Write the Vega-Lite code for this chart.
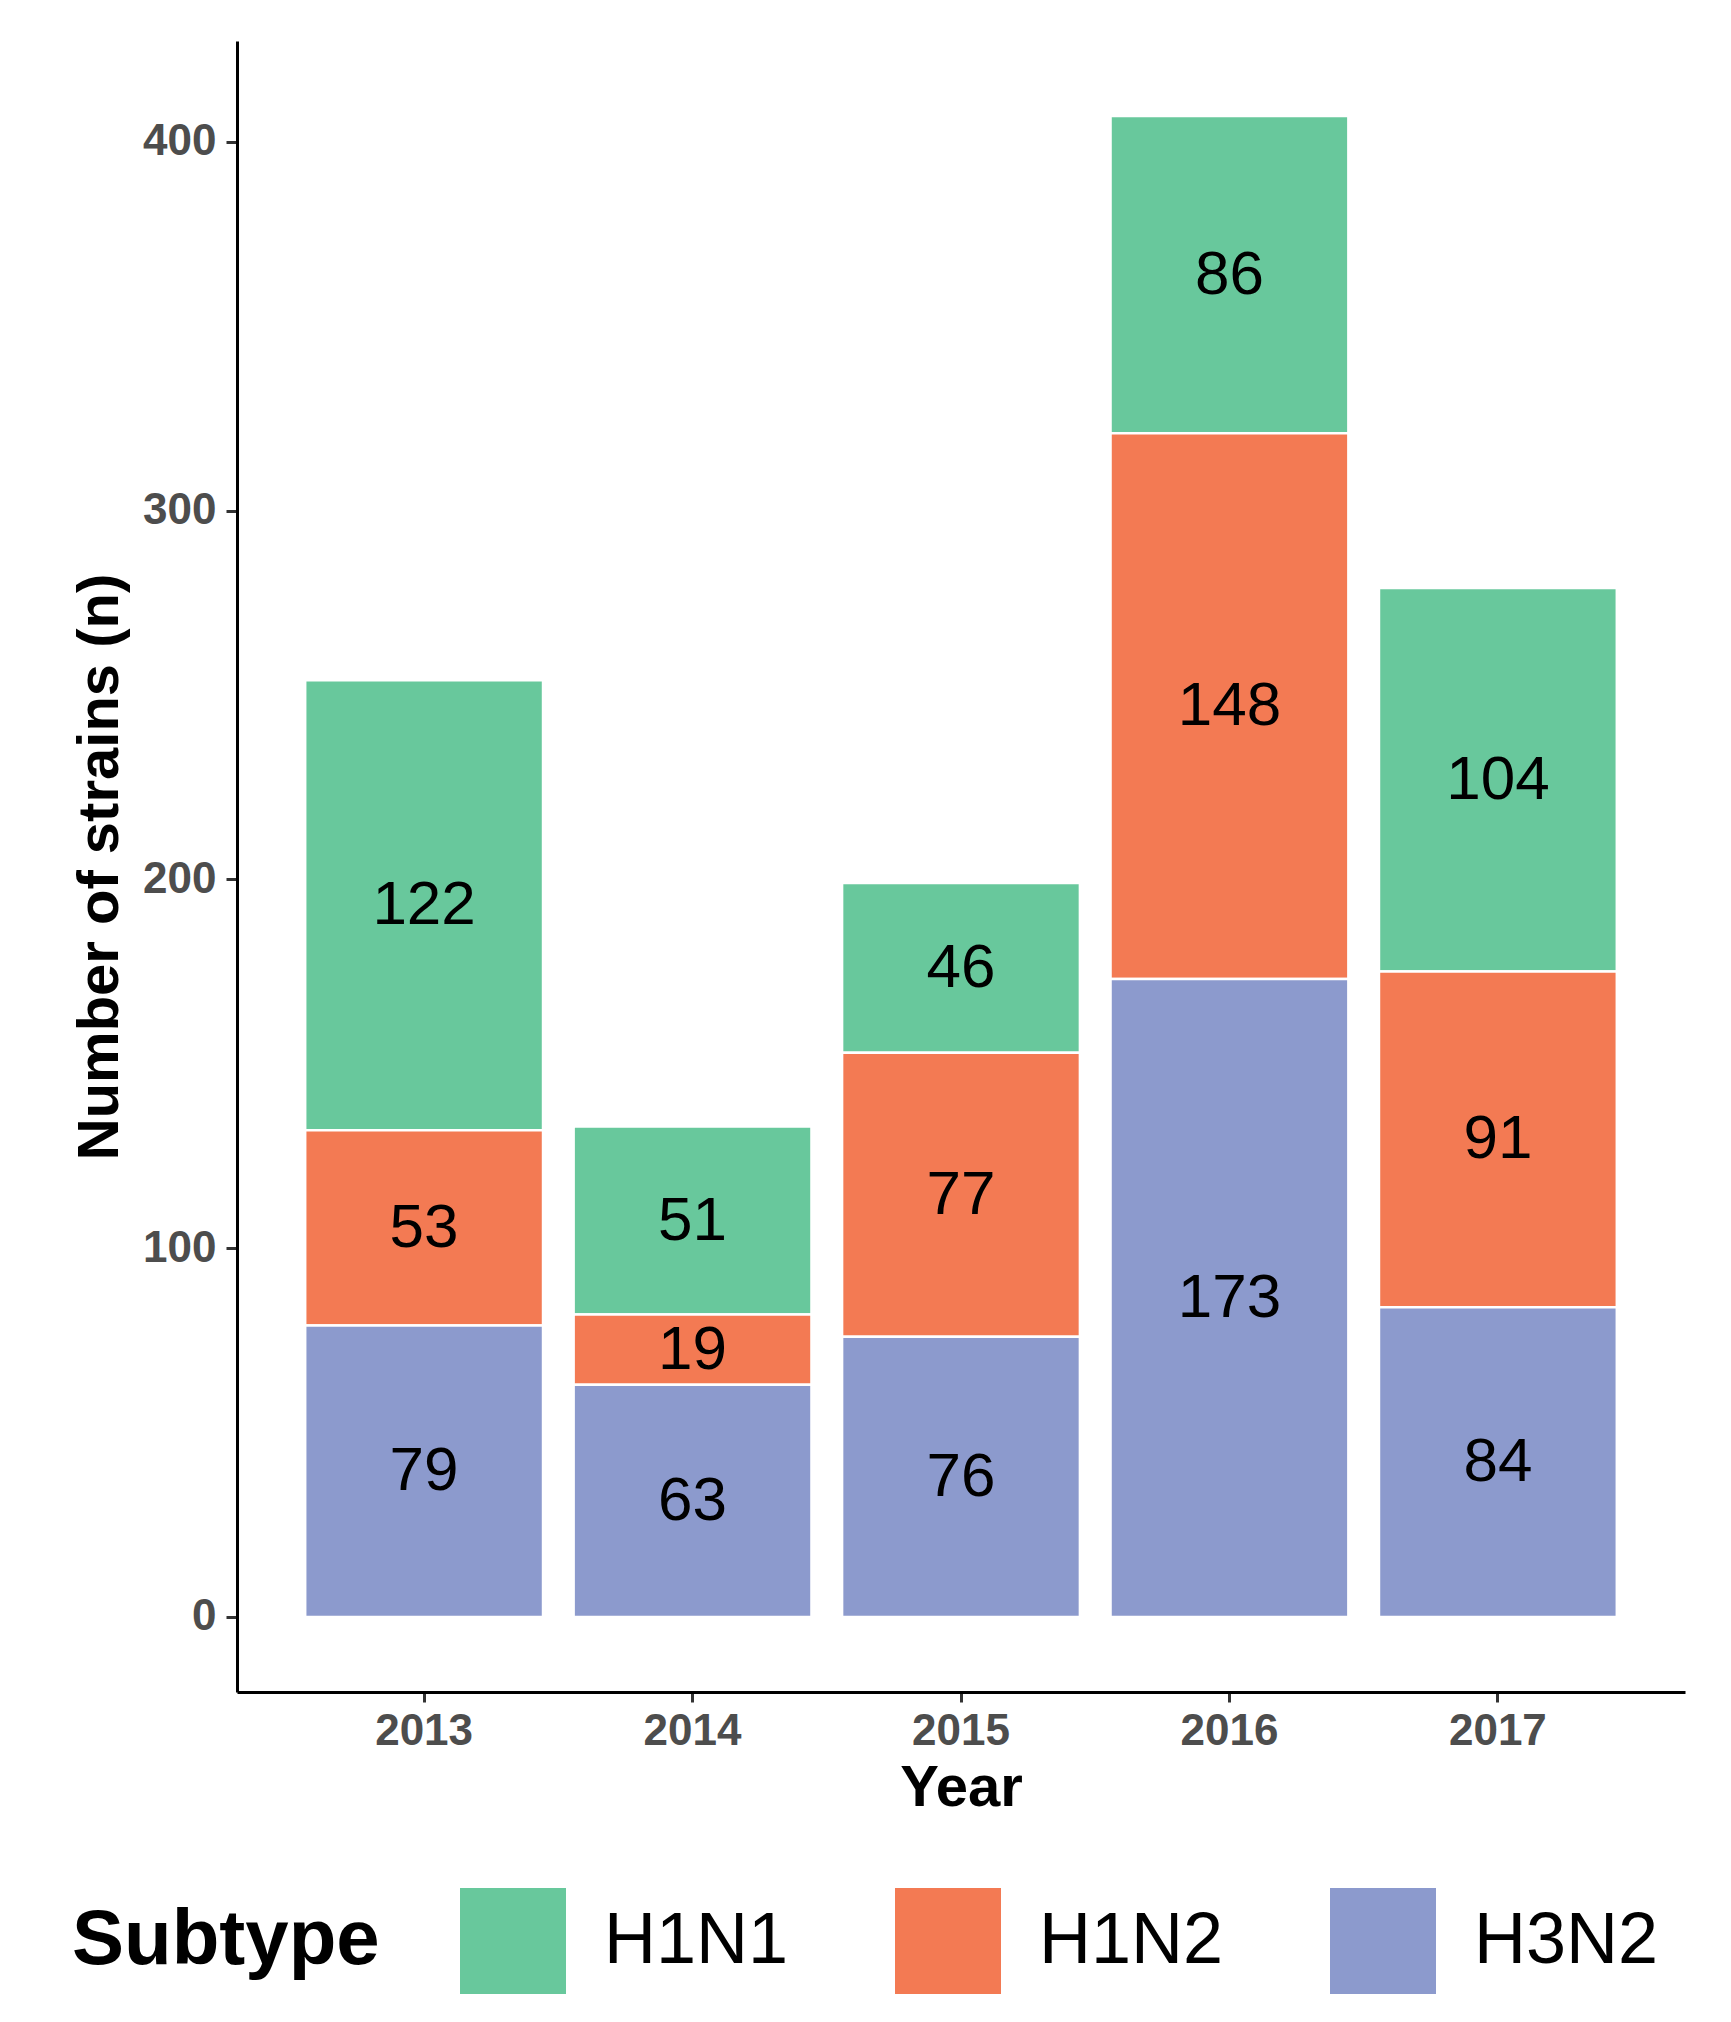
{
  "$schema": "https://vega.github.io/schema/vega-lite/v6.json",
  "width": 1448,
  "height": 1651,
  "autosize": {"type": "none"},
  "padding": {"left": 237, "top": 41, "right": 46, "bottom": 330},
  "background": "white",
  "config": {
    "view": {"stroke": null},
    "font": "Liberation Sans"
  },
  "data": {
    "values": [
      {"Year": "2013", "Subtype": "H1N1", "n": 122},
      {"Year": "2013", "Subtype": "H1N2", "n": 53},
      {"Year": "2013", "Subtype": "H3N2", "n": 79},
      {"Year": "2014", "Subtype": "H1N1", "n": 51},
      {"Year": "2014", "Subtype": "H1N2", "n": 19},
      {"Year": "2014", "Subtype": "H3N2", "n": 63},
      {"Year": "2015", "Subtype": "H1N1", "n": 46},
      {"Year": "2015", "Subtype": "H1N2", "n": 77},
      {"Year": "2015", "Subtype": "H3N2", "n": 76},
      {"Year": "2016", "Subtype": "H1N1", "n": 86},
      {"Year": "2016", "Subtype": "H1N2", "n": 148},
      {"Year": "2016", "Subtype": "H3N2", "n": 173},
      {"Year": "2017", "Subtype": "H1N1", "n": 104},
      {"Year": "2017", "Subtype": "H1N2", "n": 91},
      {"Year": "2017", "Subtype": "H3N2", "n": 84}
    ]
  },
  "transform": [
    {
      "stack": "n",
      "groupby": ["Year"],
      "sort": [{"field": "Subtype", "order": "descending"}],
      "as": ["n_start", "n_end"]
    },
    {"calculate": "(datum.n_start + datum.n_end) / 2", "as": "n_mid"}
  ],
  "encoding": {
    "x": {
      "field": "Year",
      "type": "nominal",
      "title": "Year",
      "scale": {"paddingInner": 0.114, "paddingOuter": 0.254},
      "axis": {
        "labelAngle": 0,
        "labelFont": "Liberation Sans",
        "labelFontSize": 44,
        "labelFontWeight": "bold",
        "labelColor": "#4d4d4d",
        "labelPadding": 7,
        "tickSize": 10,
        "tickWidth": 3,
        "tickColor": "#333333",
        "domainColor": "black",
        "domainWidth": 3,
        "titleFont": "Liberation Sans",
        "titleFontSize": 58,
        "titleFontWeight": "bold",
        "titleColor": "black",
        "titlePadding": 6
      }
    }
  },
  "layer": [
    {
      "mark": {"type": "bar", "stroke": "white", "strokeWidth": 2.5},
      "encoding": {
        "y": {
          "field": "n_end",
          "type": "quantitative",
          "title": "Number of strains (n)",
          "scale": {"domain": [-20.35, 427.35], "nice": false, "zero": false},
          "axis": {
            "values": [0, 100, 200, 300, 400],
            "grid": false,
            "labelFont": "Liberation Sans",
            "labelFontSize": 44,
            "labelFontWeight": "bold",
            "labelColor": "#4d4d4d",
            "labelPadding": 10,
            "tickSize": 11,
            "tickWidth": 3,
            "tickColor": "#333333",
            "domainColor": "black",
            "domainWidth": 3,
            "titleFont": "Liberation Sans",
            "titleFontSize": 58,
            "titleFontWeight": "bold",
            "titleColor": "black",
            "titlePadding": 13
          }
        },
        "y2": {"field": "n_start"},
        "color": {
          "field": "Subtype",
          "type": "nominal",
          "scale": {
            "domain": ["H1N1", "H1N2", "H3N2"],
            "range": ["#68c89c", "#f37a53", "#8c9acd"]
          },
          "legend": {
            "title": "Subtype",
            "orient": "none",
            "direction": "horizontal",
            "legendX": -165,
            "legendY": 1847,
            "titleOrient": "left",
            "titleFont": "Liberation Sans",
            "titleFontSize": 78,
            "titleFontWeight": "bold",
            "titleColor": "black",
            "titlePadding": 80,
            "titleBaseline": "middle",
            "titleAnchor": "middle",
            "titleLimit": 600,
            "symbolType": "square",
            "symbolSize": 11236,
            "symbolStrokeWidth": 0,
            "symbolOpacity": 1,
            "labelFont": "Liberation Sans",
            "labelFontSize": 72,
            "labelColor": "black",
            "labelLimit": 600,
            "labelOffset": 38,
            "columnPadding": 106
          }
        }
      }
    },
    {
      "mark": {
        "type": "text",
        "font": "Liberation Sans",
        "fontSize": 62,
        "color": "black",
        "baseline": "middle",
        "align": "center"
      },
      "encoding": {
        "y": {"field": "n_mid", "type": "quantitative"},
        "text": {"field": "n", "type": "quantitative"}
      }
    }
  ]
}
